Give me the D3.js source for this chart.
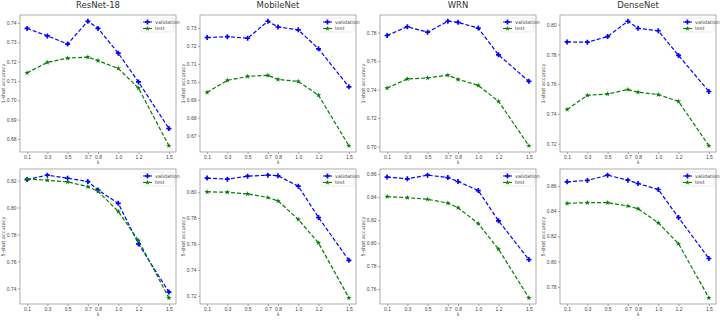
<!DOCTYPE html>
<html><head><meta charset="utf-8">
<script src="https://cdn.jsdelivr.net/npm/d3@7"></script>
<style>body{margin:0;background:#fff;} svg{display:block;font-family:"DejaVu Sans",sans-serif;}</style>
</head><body><svg id="c" width="720" height="322"></svg>
<script>
const lambdas = [0.1, 0.3, 0.5, 0.7, 0.8, 1.0, 1.2, 1.5];
const xTickLabels = ["0.1","0.3","0.5","0.7","0.8","1.0","1.2","1.5"];
const models = ["ResNet-18", "MobileNet", "WRN", "DenseNet"];
const seriesNames = ["validation", "test"];

// 1-shot
const val1_resnet = [0.7372, 0.7333, 0.7291, 0.7409, 0.7372, 0.7244, 0.7095, 0.6854];
const test1_resnet = [0.7142, 0.7196, 0.7218, 0.7223, 0.7205, 0.7165, 0.7063, 0.6765];
const val1_mobile = [0.7247, 0.7252, 0.7243, 0.7338, 0.7306, 0.7290, 0.7184, 0.6972];
const test1_mobile = [0.6941, 0.7008, 0.7030, 0.7036, 0.7013, 0.7002, 0.6925, 0.6643];
const val1_wrn = [0.7779, 0.7840, 0.7802, 0.7879, 0.7871, 0.7831, 0.7643, 0.7457];
const test1_wrn = [0.7410, 0.7474, 0.7481, 0.7500, 0.7471, 0.7429, 0.7317, 0.7005];
const val1_dense = [0.7884, 0.7882, 0.7920, 0.8023, 0.7975, 0.7959, 0.7793, 0.7551];
const test1_dense = [0.7430, 0.7525, 0.7534, 0.7564, 0.7546, 0.7530, 0.7484, 0.7186];
// 5-shot
const val5_resnet = [0.8207, 0.8240, 0.8217, 0.8193, 0.8130, 0.8031, 0.7730, 0.7373];
const test5_resnet = [0.8212, 0.8202, 0.8190, 0.8155, 0.8120, 0.7971, 0.7755, 0.7330];
const val5_mobile = [0.8109, 0.8101, 0.8124, 0.8132, 0.8127, 0.8047, 0.7805, 0.7474];
const test5_mobile = [0.8003, 0.8000, 0.7987, 0.7959, 0.7933, 0.7790, 0.7608, 0.7184];
const val5_wrn = [0.8574, 0.8559, 0.8591, 0.8570, 0.8536, 0.8457, 0.8194, 0.7857];
const test5_wrn = [0.8404, 0.8395, 0.8381, 0.8348, 0.8308, 0.8170, 0.7947, 0.7524];
const val5_dense = [0.8632, 0.8643, 0.8685, 0.8645, 0.8619, 0.8571, 0.8349, 0.8024];
const test5_dense = [0.8461, 0.8467, 0.8467, 0.8440, 0.8419, 0.8307, 0.8141, 0.7712];

// y tick values per panel
const yt1_resnet = [0.68,0.69,0.70,0.71,0.72,0.73,0.74];
const yt1_mobile = [0.67,0.68,0.69,0.70,0.71,0.72,0.73];
const yt1_wrn = [0.70,0.72,0.74,0.76,0.78];
const yt1_dense = [0.72,0.74,0.76,0.78,0.80];
const yt5_resnet = [0.74,0.76,0.78,0.80,0.82];
const yt5_mobile = [0.72,0.74,0.76,0.78,0.80];
const yt5_wrn = [0.76,0.78,0.80,0.82,0.84,0.86];
const yt5_dense = [0.78,0.80,0.82,0.84,0.86];

const rows = [
  {ylabel:"1-shot accuracy", panels:[
    {v:val1_resnet,t:test1_resnet,yt:yt1_resnet},
    {v:val1_mobile,t:test1_mobile,yt:yt1_mobile},
    {v:val1_wrn,t:test1_wrn,yt:yt1_wrn},
    {v:val1_dense,t:test1_dense,yt:yt1_dense}]},
  {ylabel:"5-shot accuracy", panels:[
    {v:val5_resnet,t:test5_resnet,yt:yt5_resnet},
    {v:val5_mobile,t:test5_mobile,yt:yt5_mobile},
    {v:val5_wrn,t:test5_wrn,yt:yt5_wrn},
    {v:val5_dense,t:test5_dense,yt:yt5_dense}]}
];

const svg = d3.select("#c");
const colors = {validation:"#0000ff", test:"#008000"};
const rowY = [{top:15,bottom:152},{top:169,bottom:304}];
const plusPath = (s) => { const a=s/2, b=s/6; return `M${-b},${-a}H${b}V${-b}H${a}V${b}H${b}V${a}H${-b}V${b}H${-a}V${-b}H${-b}Z`; };
const starSym = d3.symbol().type(d3.symbolStar).size(9);

function pad(ext){ const r=ext[1]-ext[0]; return [ext[0]-0.05*r, ext[1]+0.05*r]; }

rows.forEach((row, ri) => {
  row.panels.forEach((p, ci) => {
    const x0 = 20 + 180*ci, x1 = 176 + 180*ci;
    const y0 = rowY[ri].top, y1 = rowY[ri].bottom;
    const x = d3.scaleLinear().domain(pad(d3.extent(lambdas))).range([x0, x1]);
    const y = d3.scaleLinear().domain(pad(d3.extent(p.v.concat(p.t)))).range([y1, y0]);
    const g = svg.append("g");

    const xa = g.append("g").attr("transform",`translate(0,${y1})`)
      .call(d3.axisBottom(x).tickValues(lambdas).tickFormat((d,i)=>xTickLabels[i]).tickSize(2).tickPadding(1.5));
    const ya = g.append("g").attr("transform",`translate(${x0},0)`)
      .call(d3.axisLeft(y).tickValues(p.yt).tickFormat(d3.format(".2f")).tickSize(2).tickPadding(1.5));
    [xa, ya].forEach(a => {
      a.select(".domain").remove();
      a.selectAll("line").attr("stroke","#666").attr("stroke-width",0.6);
      a.selectAll("text").attr("font-size","5px").attr("fill","#444");
    });

    g.append("rect").attr("x",x0).attr("y",y0).attr("width",x1-x0).attr("height",y1-y0)
      .attr("fill","none").attr("stroke","#999").attr("stroke-width",0.8);

    g.append("text").attr("x",(x0+x1)/2).attr("y",y1+12).attr("text-anchor","middle")
      .attr("font-size","5px").attr("fill","#444").text("λ");
    g.append("text").attr("transform",`translate(${x0-15},${(y0+y1)/2}) rotate(-90)`)
      .attr("text-anchor","middle").attr("font-size","5px").attr("fill","#444").text(row.ylabel);
    if (ri===0) {
      g.append("text").attr("x",(x0+x1)/2).attr("y",8).attr("text-anchor","middle")
        .attr("font-size","8.5px").attr("font-weight","normal").attr("fill","#333").text(models[ci]);
    }

    const line = d3.line().x((d,i)=>x(lambdas[i])).y(d=>y(d));
    [["validation",p.v],["test",p.t]].forEach(([name, vals]) => {
      g.append("path").datum(vals).attr("d",line).attr("fill","none")
        .attr("stroke",colors[name]).attr("stroke-width",1.2).attr("stroke-dasharray","4,2");
      g.selectAll(null).data(vals).enter().append("path")
        .attr("transform",(d,i)=>`translate(${x(lambdas[i])},${y(d)})`)
        .attr("d", name==="validation" ? plusPath(5) : starSym)
        .attr("fill",colors[name]);
    });

    const lx = x1 - 35, ly = y0 + 3;
    const lg = g.append("g");
    lg.append("rect").attr("x",lx).attr("y",ly).attr("width",33).attr("height",14)
      .attr("fill","#fff").attr("stroke","#ddd").attr("stroke-width",0.6).attr("rx",1);
    seriesNames.forEach((name, k) => {
      const yy = ly + 4 + k*6.5;
      lg.append("line").attr("x1",lx+2).attr("x2",lx+11).attr("y1",yy).attr("y2",yy)
        .attr("stroke",colors[name]).attr("stroke-width",1.2).attr("stroke-dasharray","4,2");
      lg.append("path").attr("transform",`translate(${lx+6.5},${yy})`)
        .attr("d", name==="validation" ? plusPath(5) : starSym).attr("fill",colors[name]);
      lg.append("text").attr("x",lx+14).attr("y",yy+1.8).attr("font-size","5px").attr("fill","#444").text(name);
    });
  });
});
</script></body></html>
